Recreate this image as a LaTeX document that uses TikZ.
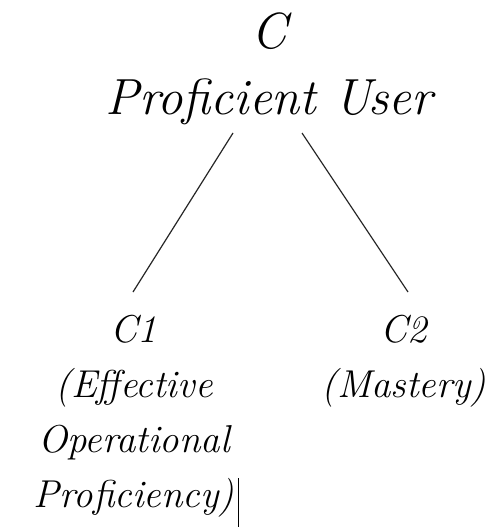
\documentclass[tikz,border=0pt]{standalone}
\usepackage{fontspec}
\begin{document}
\begin{tikzpicture}[x=1bp,y=-1bp,
  toplbl/.style={inner sep=0pt, align=center, anchor=base, font=\itshape\fontsize{51}{67}\selectfont},
  lbl/.style={inner sep=0pt, align=center, anchor=base, font=\itshape\fontsize{39}{55}\selectfont},
  branch/.style={line width=1.2bp, draw=black!85}]
  \fill[white] (0,0) rectangle (498,528);
  \useasboundingbox (0,0) rectangle (498,528);
  \node[toplbl] (top) at (269,115) {C\\Proficient User};
  \node[lbl] (c1) at (134,507) {C1\\(Effective\\Operational\\Proficiency)};
  \node[lbl] (c2) at (404,397) {C2\\(Mastery)};
  \coordinate (l1) at (233,133);
  \coordinate (l2) at (133,292);
  \coordinate (r1) at (302,133);
  \coordinate (r2) at (408,292);
  \draw[branch] (l1) -- (l2);
  \draw[branch] (r1) -- (r2);
  \draw[line width=1bp] (238,478) -- (238,527);
\end{tikzpicture}
\end{document}
